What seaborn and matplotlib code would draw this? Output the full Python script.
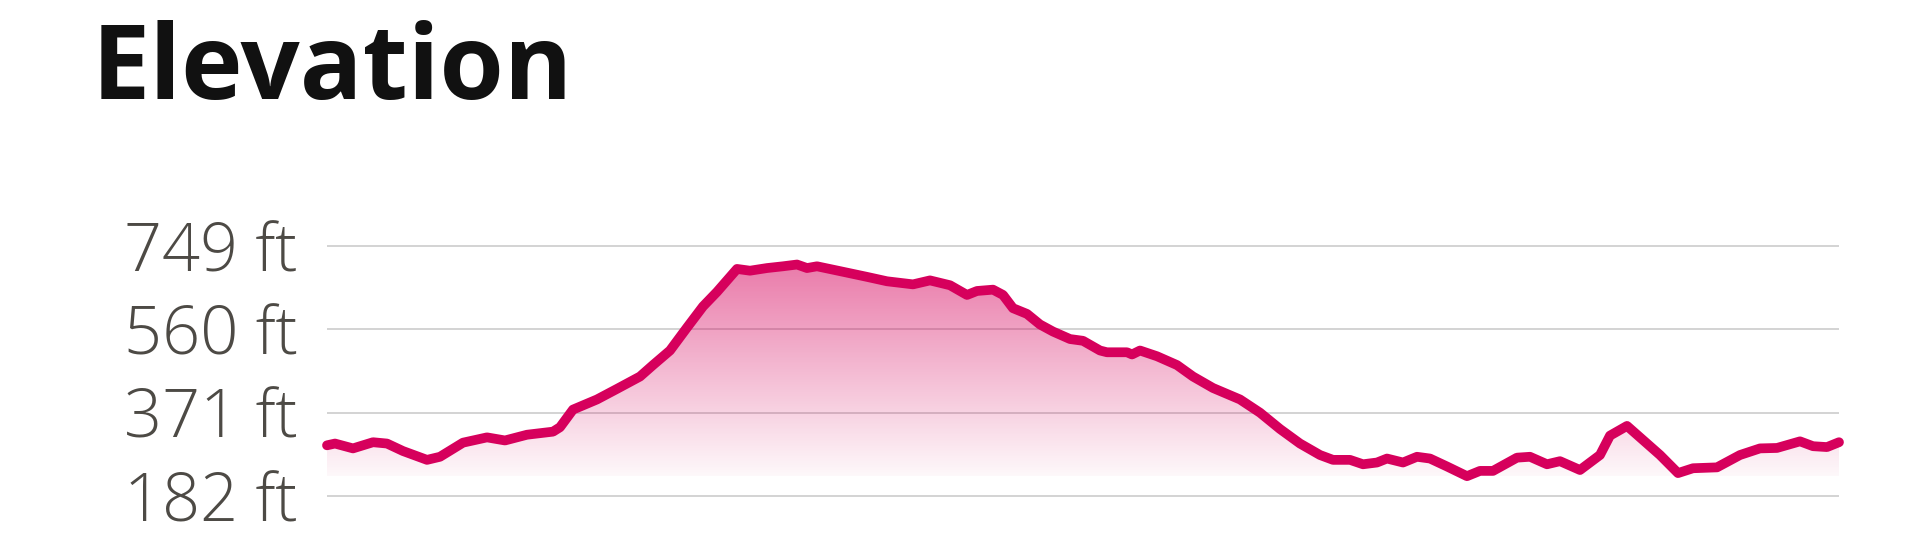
import matplotlib

matplotlib.use("Agg")
import matplotlib.pyplot as plt
import numpy as np
import pandas as pd
import seaborn as sns
from matplotlib.colors import LinearSegmentedColormap

# distance along the route (mi) and elevation (ft)
DISTANCE = [
    0.00, 0.04, 0.13, 0.23, 0.30, 0.38, 0.50, 0.565, 0.68, 0.80,
    0.89, 1.00, 1.13, 1.165, 1.23, 1.35, 1.45, 1.565, 1.63, 1.715,
    1.80, 1.88, 1.95, 2.05, 2.115, 2.20, 2.28, 2.35, 2.40, 2.45,
    2.565, 2.70, 2.80, 2.93, 3.015, 3.115, 3.20, 3.25, 3.33, 3.38,
    3.43, 3.50, 3.565, 3.63, 3.715, 3.78, 3.865, 3.90, 4.00, 4.025,
    4.065, 4.15, 4.25, 4.33, 4.43, 4.565, 4.665, 4.765, 4.865, 4.965,
    5.03, 5.115, 5.18, 5.25, 5.30, 5.38, 5.45, 5.515, 5.60, 5.70,
    5.765, 5.83, 5.95, 6.015, 6.10, 6.165, 6.265, 6.365, 6.415, 6.50,
    6.565, 6.665, 6.755, 6.83, 6.95, 7.065, 7.165, 7.25, 7.365, 7.43,
    7.50, 7.56,
]
ELEVATION = [
    297, 301, 290, 304, 301, 284, 264, 271, 303, 315,
    308, 321, 328, 338, 378, 401, 425, 453, 479, 512,
    564, 612, 645, 697, 693, 699, 703, 707, 699, 703,
    692, 679, 669, 662, 671, 660, 638, 647, 650, 638,
    608, 595, 571, 555, 538, 534, 512, 508, 508, 503,
    512, 499, 479, 453, 427, 401, 371, 334, 301, 275,
    264, 264, 254, 258, 267, 258, 271, 267, 249, 227,
    239, 239, 269, 271, 254, 261, 241, 275, 319, 341,
    315, 275, 234, 245, 247, 275, 290, 291, 306, 295,
    293, 304,
]
Y_TICKS = [182, 371, 560, 749]
TITLE = "Elevation"

LINE_COLOR = "#d6005c"
GRID_COLOR = "#d0d0d0"
TICK_COLOR = "#4d4a45"

df = pd.DataFrame({"distance": DISTANCE, "elevation": ELEVATION})

sns.set_style("white")
plt.rcParams["font.family"] = ["Open Sans", "DejaVu Sans"]

fig = plt.figure(figsize=(19.2, 5.37), dpi=100)
ax = fig.add_axes([327 / 1920, 0.0681, (1839 - 327) / 1920, 0.4820])

# gradient fill under the profile, clipped to the area polygon
base = df["elevation"].min()
area = ax.fill_between(df["distance"], df["elevation"], base, color="none", lw=0)
cmap = LinearSegmentedColormap.from_list(
    "pinkfade", [(0.84, 0.0, 0.36, 0.03), (0.84, 0.0, 0.36, 0.52)]
)
grad = np.linspace(0, 1, 256).reshape(-1, 1)
img = ax.imshow(
    grad,
    cmap=cmap,
    aspect="auto",
    origin="lower",
    extent=[df["distance"].min(), df["distance"].max(), base, df["elevation"].max()],
    zorder=2,
)
img.set_clip_path(area.get_paths()[0], transform=ax.transData)

sns.lineplot(data=df, x="distance", y="elevation", ax=ax, color=LINE_COLOR,
             linewidth=7, zorder=3)
for line in ax.get_lines():
    line.set_solid_capstyle("round")
    line.set_solid_joinstyle("round")
    line.set_clip_on(False)

ax.set_xlim(df["distance"].min(), df["distance"].max())
ax.set_ylim(172, 759)
ax.set_yticks(Y_TICKS)
ax.set_yticklabels([f"{v} ft" for v in Y_TICKS])
ax.set_xticks([])
ax.set_xlabel("")
ax.set_ylabel("")
ax.grid(axis="y", color=GRID_COLOR, linewidth=1.3, zorder=1)
ax.set_axisbelow(True)
for spine in ax.spines.values():
    spine.set_visible(False)
ax.tick_params(axis="y", length=0, pad=21, labelsize=48, labelcolor=TICK_COLOR)
for lbl in ax.get_yticklabels():
    lbl.set_fontweight(300)
    lbl.set_verticalalignment("center_baseline")

fig.text(92 / 1920, (537 - 99) / 537, TITLE, fontsize=75, fontweight=700,
         color="#111111", ha="left", va="baseline")

fig.savefig("out.png", dpi=100, facecolor="white")
